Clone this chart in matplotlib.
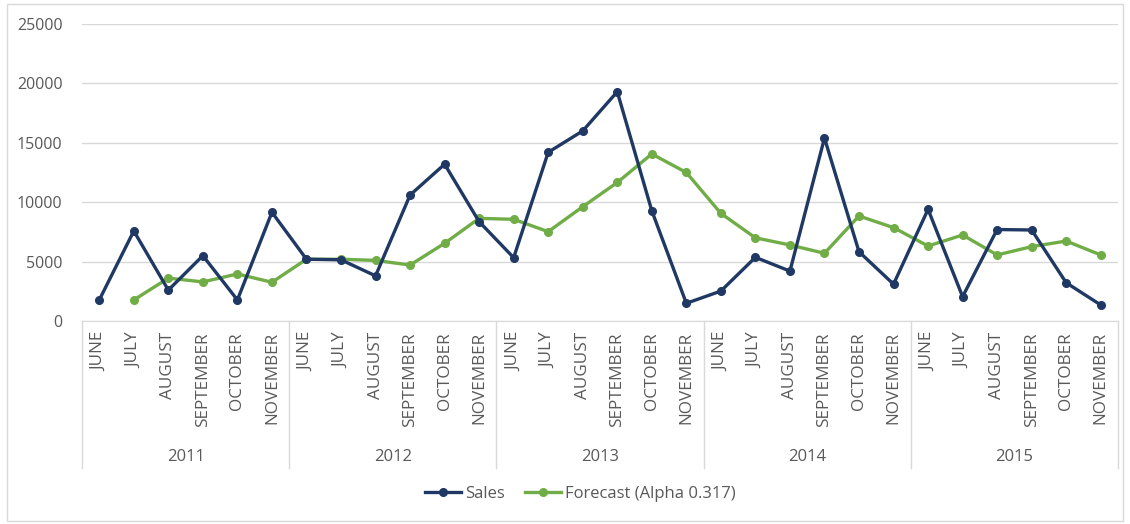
import matplotlib.pyplot as plt
from matplotlib.patches import Rectangle
from matplotlib.lines import Line2D
import matplotlib.transforms as mtransforms

plt.rcParams['font.family'] = ['Open Sans', 'DejaVu Sans']

years = ["2011", "2012", "2013", "2014", "2015"]
months = ["JUNE", "JULY", "AUGUST", "SEPTEMBER", "OCTOBER", "NOVEMBER"]

sales = [1770, 7580, 2600, 5500, 1770, 9150,
         5200, 5150, 3800, 10600, 13200, 8360,
         5330, 14200, 16000, 19300, 9280, 1490,
         2520, 5360, 4200, 15400, 5830, 3100,
         9400, 2050, 7700, 7660, 3220, 1350]

# first month has no forecast
forecast = [None, 1770, 3610, 3290, 3960, 3260,
            5200, 5200, 5100, 4710, 6540, 8640,
            8560, 7520, 9620, 11660, 14060, 12500,
            9060, 7000, 6400, 5700, 8840, 7860,
            6310, 7240, 5560, 6260, 6730, 5560]

sales_color = "#203864"
fc_color = "#70AD47"
text_color = "#595959"
grid_color = "#D9D9D9"

fig = plt.figure(figsize=(11.3, 5.24), dpi=100)
ax = fig.add_axes([82 / 1130, 203 / 524, 1036 / 1130, 297 / 524])

x = list(range(len(sales)))
fx = [i for i, v in enumerate(forecast) if v is not None]
fy = [v for v in forecast if v is not None]

ax.plot(x, sales, color=sales_color, lw=2.4, marker="o", ms=5.5, label="Sales", zorder=3)
ax.plot(fx, fy, color=fc_color, lw=2.4, marker="o", ms=5.5,
        label="Forecast (Alpha 0.317)", zorder=2)

ax.set_xlim(-0.5, len(sales) - 0.5)
ax.set_ylim(0, 25000)
ax.set_yticks(range(0, 25001, 5000))
ax.yaxis.grid(True, color=grid_color, lw=1)
ax.set_axisbelow(True)
for s in ["top", "right", "left"]:
    ax.spines[s].set_visible(False)
ax.spines["bottom"].set_color(grid_color)
ax.tick_params(axis="y", length=0, pad=14, labelsize=11.5, labelcolor=text_color)

ax.set_xticks(x)
ax.set_xticklabels(months * len(years), rotation=90, va="top", ha="center")
ax.tick_params(axis="x", length=0, pad=8, labelsize=12.3, labelcolor=text_color)

# year level of the category axis
trans = mtransforms.blended_transform_factory(ax.transData, ax.transAxes)
n = len(months)
for k in range(len(years) + 1):
    xb = k * n - 0.5
    ax.add_line(Line2D([xb, xb], [0, -0.495], transform=trans, color=grid_color,
                       lw=1, clip_on=False))
for k, yr in enumerate(years):
    ax.text(k * n + (n - 1) / 2, -0.458, yr, transform=trans, ha="center", va="center",
            fontsize=12, color=text_color)

fig.legend(loc="center", bbox_to_anchor=(580 / 1130, 1 - 494 / 524), ncol=2, frameon=False,
           fontsize=12, labelcolor=text_color, handlelength=2.2, handletextpad=0.2,
           columnspacing=1.2)

fig.patches.append(Rectangle((7 / 1130, 3 / 524), 1116 / 1130, 517 / 524,
                             transform=fig.transFigure, fill=False,
                             edgecolor=grid_color, lw=1))

fig.savefig("out.png", dpi=100)
